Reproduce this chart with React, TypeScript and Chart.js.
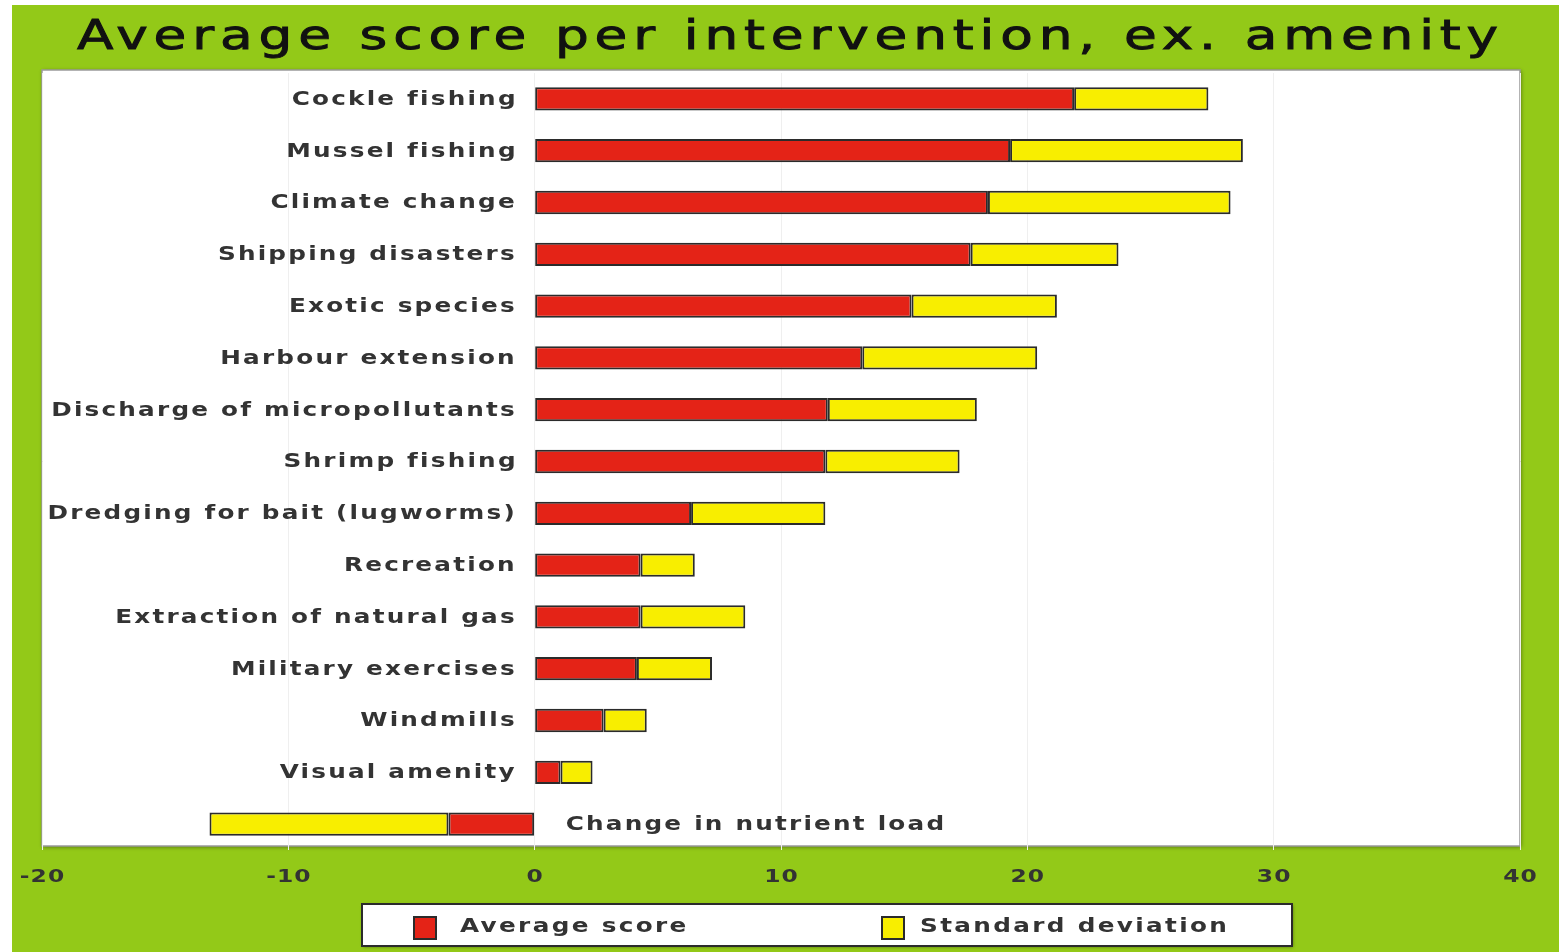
import React, { useEffect, useRef } from 'react';
import { Chart, registerables } from 'chart.js';

Chart.register(...registerables);

const titleText = 'Average score per intervention, ex. amenity';

const categories = [
  'Cockle fishing',
  'Mussel fishing',
  'Climate change',
  'Shipping disasters',
  'Exotic species',
  'Harbour extension',
  'Discharge of micropollutants',
  'Shrimp fishing',
  'Dredging for bait (lugworms)',
  'Recreation',
  'Extraction of natural gas',
  'Military exercises',
  'Windmills',
  'Visual amenity',
  'Change in nutrient load',
];

const averageScore = [21.9, 19.3, 18.4, 17.7, 15.3, 13.3, 11.9, 11.8, 6.35, 4.3, 4.3, 4.15, 2.8, 1.05, -3.5];
const standardDeviation = [5.45, 9.45, 9.85, 6.0, 5.9, 7.1, 6.05, 5.45, 5.45, 2.2, 4.25, 3.05, 1.75, 1.3, 9.7];

const seriesNames = ['Average score', 'Standard deviation'];
const seriesColors = ['#e42317', '#f8ee00'];

const xTicks = [-20, -10, 0, 10, 20, 30, 40];
const xTickLabels = ['-20', '-10', '0', '10', '20', '30', '40'];

const GREEN = '#93c918';
const BORDER = '#2b2b2b';
const TEXT = '#333333';

function drawStretched(
  ctx: CanvasRenderingContext2D,
  text: string,
  x: number,
  y: number,
  align: 'left' | 'right' | 'center',
  font: string,
  spacing: number,
  sx: number,
  color: string,
  stroke = 0
) {
  ctx.save();
  ctx.font = font;
  (ctx as any).letterSpacing = '0px';
  const raw = ctx.measureText(text).width;
  const w = (raw + spacing * (text.length - 1)) * sx;
  (ctx as any).letterSpacing = spacing + 'px';
  ctx.fillStyle = color;
  ctx.textBaseline = 'middle';
  ctx.textAlign = 'left';
  let left = x;
  if (align === 'right') left = x - w;
  else if (align === 'center') left = x - w / 2;
  ctx.translate(left, y);
  ctx.scale(sx, 1);
  ctx.fillText(text, 0, 0);
  if (stroke > 0) {
    ctx.strokeStyle = color;
    ctx.lineWidth = stroke;
    ctx.strokeText(text, 0, 0);
  }
  ctx.restore();
}

const decorPlugin = {
  id: 'decor',
  beforeDraw(chart: any) {
    const { ctx, chartArea } = chart;
    const fx = chartArea.left;
    const fy = chartArea.top - 3;
    const fw = chartArea.right - chartArea.left;
    const fh = chartArea.bottom - chartArea.top - 1;
    ctx.save();
    ctx.fillStyle = GREEN;
    ctx.fillRect(12, 5, chart.width - 12, chart.height - 5);
    // plot frame
    ctx.shadowColor = 'rgba(0,0,0,0.45)';
    ctx.shadowBlur = 4;
    ctx.shadowOffsetX = 1;
    ctx.shadowOffsetY = 1;
    ctx.fillStyle = '#ffffff';
    ctx.fillRect(fx, fy, fw, fh);
    ctx.shadowColor = 'transparent';
    ctx.strokeStyle = '#9a9a9a';
    ctx.lineWidth = 1.5;
    ctx.strokeRect(fx, fy, fw, fh);
    ctx.restore();

    // title
    drawStretched(ctx, titleText, 77, 38, 'left', '41px "DejaVu Sans"', 4.5, 1.3, '#111111', 0.9);
  },
  afterDatasetsDraw(chart: any) {
    const { ctx } = chart;
    const xScale = chart.scales.x;
    const yScale = chart.scales.y;
    const x0 = xScale.getPixelForValue(0);
    const labelFont = 'bold 19px "DejaVu Sans"';
    categories.forEach((cat, i) => {
      const y = yScale.getPixelForValue(i);
      if (averageScore[i] >= 0) {
        drawStretched(ctx, cat, x0 - 20, y + 1, 'right', labelFont, 1.7, 1.3, TEXT);
      } else {
        drawStretched(ctx, cat, x0 + 31, y + 1, 'left', labelFont, 1.7, 1.3, TEXT);
      }
    });

    // x tick labels
    xTicks.forEach((v, i) => {
      const px = xScale.getPixelForValue(v);
      drawStretched(ctx, xTickLabels[i], px, 877, 'center', 'bold 18px "DejaVu Sans"', 0.8, 1.3, TEXT);
    });

    // legend
    ctx.save();
    ctx.shadowColor = 'rgba(0,0,0,0.4)';
    ctx.shadowBlur = 3;
    ctx.shadowOffsetX = 1;
    ctx.shadowOffsetY = 1;
    ctx.fillStyle = '#ffffff';
    ctx.fillRect(362, 904, 930, 42);
    ctx.shadowColor = 'transparent';
    ctx.strokeStyle = BORDER;
    ctx.lineWidth = 2;
    ctx.strokeRect(362, 904, 930, 42);
    ctx.restore();

    const items = [
      { sq: 414, tx: 460 },
      { sq: 882, tx: 920 },
    ];
    chart.data.datasets.forEach((ds: any, i: number) => {
      const it = items[i];
      ctx.save();
      ctx.fillStyle = ds.backgroundColor;
      ctx.fillRect(it.sq, 917, 22, 22);
      ctx.strokeStyle = BORDER;
      ctx.lineWidth = 2;
      ctx.strokeRect(it.sq, 917, 22, 22);
      ctx.restore();
      drawStretched(ctx, ds.label, it.tx, 927, 'left', 'bold 19px "DejaVu Sans"', 1.8, 1.3, TEXT);
    });
  },
};

export default function App() {
  const canvasRef = useRef<HTMLCanvasElement | null>(null);

  useEffect(() => {
    if (!canvasRef.current) return;
    const sdSigned = standardDeviation.map((sd, i) => (averageScore[i] < 0 ? -sd : sd));
    const chart = new Chart(canvasRef.current, {
      type: 'bar',
      data: {
        labels: categories,
        datasets: [
          {
            label: seriesNames[0],
            data: averageScore,
            backgroundColor: seriesColors[0],
            borderColor: BORDER,
            borderWidth: 2,
            borderSkipped: false,
            barPercentage: 0.45,
            categoryPercentage: 1,
          },
          {
            label: seriesNames[1],
            data: sdSigned,
            backgroundColor: seriesColors[1],
            borderColor: BORDER,
            borderWidth: 2,
            borderSkipped: false,
            barPercentage: 0.45,
            categoryPercentage: 1,
          },
        ],
      },
      options: {
        indexAxis: 'y',
        animation: false,
        responsive: false,
        maintainAspectRatio: false,
        layout: { padding: { left: 42, right: 39, top: 73, bottom: 102 } },
        scales: {
          x: {
            type: 'linear',
            min: -20,
            max: 40,
            stacked: true,
            ticks: { stepSize: 10, display: false },
            grid: { color: '#efefef', drawTicks: false, lineWidth: 1 },
            border: { display: false },
          },
          y: {
            type: 'category',
            stacked: true,
            display: false,
            grid: { display: false },
          },
        },
        plugins: {
          legend: { display: false },
          tooltip: { enabled: false },
          title: { display: false },
        },
      },
      plugins: [decorPlugin],
    } as any);
    return () => chart.destroy();
  }, []);

  return (
    <div style={{ position: 'absolute', left: 0, top: 0, width: 1559, height: 952, background: '#ffffff', overflow: 'hidden' }}>
      <canvas ref={canvasRef} width={1559} height={952} style={{ display: 'block' }} />
    </div>
  );
}
